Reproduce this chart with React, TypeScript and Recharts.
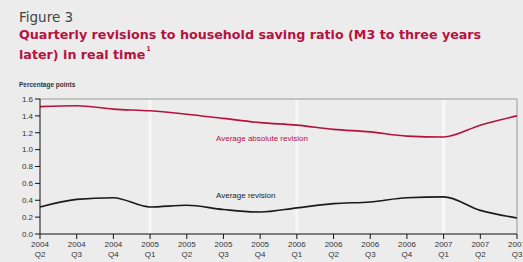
import React from "react";
import { LineChart, Line, XAxis, YAxis, ReferenceLine } from "recharts";

const quarters = [
  "2004 Q2", "2004 Q3", "2004 Q4", "2005 Q1", "2005 Q2", "2005 Q3", "2005 Q4",
  "2006 Q1", "2006 Q2", "2006 Q3", "2006 Q4", "2007 Q1", "2007 Q2", "2007 Q3",
];
const absoluteRevision = [1.51, 1.52, 1.48, 1.46, 1.42, 1.37, 1.32, 1.29, 1.24, 1.21, 1.16, 1.15, 1.29, 1.4];
const averageRevision = [0.32, 0.41, 0.43, 0.32, 0.34, 0.29, 0.26, 0.31, 0.36, 0.38, 0.43, 0.44, 0.28, 0.19];
const yTicks = [0, 0.2, 0.4, 0.6, 0.8, 1.0, 1.2, 1.4, 1.6];
const stripes = ["2005 Q1", "2006 Q1", "2007 Q1"];

const data = quarters.map((q, i) => ({
  q,
  abs: absoluteRevision[i],
  avg: averageRevision[i],
}));

const RED = "#b5123f";
const TICK_FONT = "'Liberation Sans Narrow', 'Liberation Sans', Arial, sans-serif";

function QuarterTick(props: any) {
  const { x, y, payload } = props;
  const [year, qtr] = String(payload.value).split(" ");
  return (
    <g transform={`translate(${x},${y})`}>
      <text textAnchor="middle" fontSize={8} fill="#333" fontFamily={TICK_FONT}>
        <tspan x={0} dy={6}>{year}</tspan>
        <tspan x={0} dy={10}>{qtr}</tspan>
      </text>
    </g>
  );
}

export default function App() {
  return (
    <div style={{ position: "absolute", left: 0, top: 0, width: 523, height: 262, background: "#ececec", overflow: "hidden" }}>
      <div style={{ position: "absolute", left: 19, top: 9, fontFamily: "'DejaVu Sans', sans-serif", fontSize: 13.5, color: "#444" }}>
        Figure 3
      </div>
      <div style={{ position: "absolute", left: 19, top: 25, width: 480, fontFamily: "'DejaVu Sans', sans-serif", fontWeight: 700, fontSize: 12.7, lineHeight: "20px", color: RED }}>
        Quarterly revisions to household saving ratio (M3 to three years later) in real time
        <span style={{ fontSize: 6.5, verticalAlign: "top", lineHeight: "9px", marginLeft: 1 }}>1</span>
      </div>
      <div style={{ position: "absolute", left: 19, top: 81, fontFamily: TICK_FONT, fontWeight: 700, fontSize: 6.5, color: "#333" }}>
        Percentage points
      </div>
      <div style={{ position: "absolute", left: 0, top: 0 }}>
        <LineChart width={523} height={262} data={data} margin={{ top: 99, right: 6, bottom: 2, left: 10 }}>
          {stripes.map((s) => (
            <ReferenceLine key={s} x={s} stroke="#ffffff" strokeWidth={3} strokeOpacity={0.6} />
          ))}
          <XAxis
            dataKey="q"
            interval={0}
            tick={<QuarterTick />}
            tickSize={5}
            height={26}
            axisLine={{ stroke: "#111" }}
            tickLine={{ stroke: "#111" }}
          />
          <YAxis
            domain={[0, 1.6]}
            ticks={yTicks}
            tickFormatter={(v: number) => v.toFixed(1)}
            width={30}
            tickSize={5}
            tick={{ fontSize: 8, fill: "#333", fontFamily: TICK_FONT }}
            axisLine={{ stroke: "#111" }}
            tickLine={{ stroke: "#111" }}
          />
          <ReferenceLine y={1.6} stroke="#999" />
          <ReferenceLine x="2007 Q3" stroke="#999" />
          <Line type="monotone" dataKey="abs" stroke={RED} strokeWidth={1.6} dot={false} isAnimationActive={false} />
          <Line type="monotone" dataKey="avg" stroke="#1a1a1a" strokeWidth={1.6} dot={false} isAnimationActive={false} />
        </LineChart>
      </div>
      <div style={{ position: "absolute", left: 216, top: 134, fontFamily: TICK_FONT, fontSize: 8, color: RED }}>
        Average absolute revision
      </div>
      <div style={{ position: "absolute", left: 216, top: 191, fontFamily: TICK_FONT, fontSize: 8, color: "#222" }}>
        Average revision
      </div>
    </div>
  );
}
